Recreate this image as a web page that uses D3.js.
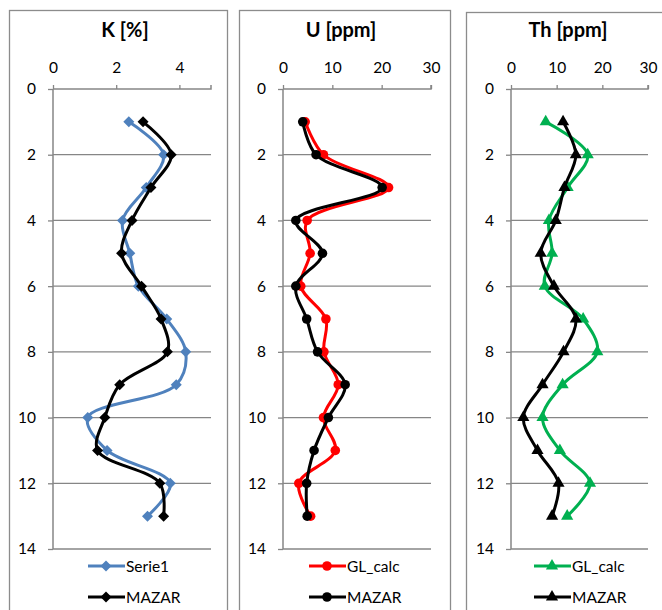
<!DOCTYPE html>
<html><head><meta charset="utf-8">
<script src="https://cdn.jsdelivr.net/npm/d3@7"></script>
<style>
html,body{margin:0;padding:0;background:#fff;}
svg{display:block;font-family:Lato,"Open Sans",sans-serif;}
</style></head>
<body>
<svg id="c" width="662" height="610"></svg>
<script>
// ---- data ----
const depths = [1,2,3,4,5,6,7,8,9,10,11,12,13];
const depthTicks = [0,2,4,6,8,10,12,14];

const kTicks = [0,2,4];
const kSerie1 = [2.4,3.5,2.95,2.2,2.43,2.7,3.6,4.2,3.9,1.1,1.71,3.71,2.99];
const kMazar  = [2.85,3.74,3.1,2.5,2.17,2.8,3.42,3.62,2.11,1.64,1.41,3.38,3.5];

const uTicks = [0,10,20,30];
const uGL    = [4.5,8.2,21.4,4.9,5.5,3.6,8.7,8.3,11.2,8.2,10.6,3.2,5.6];
const uMazar = [4.0,6.7,20.1,2.6,8.0,2.6,4.8,7.0,12.6,9.2,6.3,4.8,4.9];

const thTicks = [0,10,20,30];
const thGL    = [7.6,16.8,12.4,8.3,9.0,7.4,15.8,18.9,11.3,6.9,10.7,17.3,12.3];
const thMazar = [11.4,14.2,11.7,9.8,6.5,9.4,14.2,11.5,6.9,2.7,5.8,10.4,9.0];

const titles = ["K [%]","U [ppm]","Th [ppm]"];
const seriesNames = [["Serie1","MAZAR"],["GL_calc","MAZAR"],["GL_calc","MAZAR"]];

// ---- layout ----
const panels = [
  {box:[9,10,218,620], x0:53, x1:211, xmax:5, ticks:kTicks, title:titles[0], names:seriesNames[0],
   series:[kSerie1,kMazar], colors:["#4F81BD","#000"], marker:"diamond", tcx:125, lx:88},
  {box:[239,10,211,620], x0:283, x1:431, xmax:30, ticks:uTicks, title:titles[1], names:seriesNames[1],
   series:[uGL,uMazar], colors:["#FF0000","#000"], marker:"circle", tcx:341, lx:309},
  {box:[466,12,220,620], x0:511, x1:648, xmax:30, ticks:thTicks, title:titles[2], names:seriesNames[2],
   series:[thGL,thMazar], colors:["#00B050","#000"], marker:"triangle", tcx:568, lx:534}
];
const yTop = 89, yBot = 549;
const grid = "#868686";

const svg = d3.select("#c");
const y = d3.scaleLinear().domain([0,14]).range([yTop,yBot]);

function sym(type){
  if(type==="diamond") return "M0,-5.5L5.5,0L0,5.5L-5.5,0Z";
  if(type==="circle") return d3.symbol(d3.symbolCircle, 72)();
  return d3.symbol(d3.symbolTriangle, 64)();
}

panels.forEach(p=>{
  const g = svg.append("g");
  g.append("rect").attr("x",p.box[0]+0.5).attr("y",p.box[1]+0.5)
    .attr("width",p.box[2]).attr("height",p.box[3])
    .attr("fill","none").attr("stroke","#8c8c8c").attr("stroke-width",1.3);
  const x = d3.scaleLinear().domain([0,p.xmax]).range([p.x0,p.x1]);

  // gridlines
  g.selectAll(".gl").data(depthTicks.filter(d=>d>0)).join("line")
    .attr("x1",p.x0).attr("x2",p.x1).attr("y1",d=>y(d)).attr("y2",d=>y(d))
    .attr("stroke",grid).attr("stroke-width",1.3);

  // top axis
  const xa = g.append("g").attr("transform",`translate(0,${yTop})`)
    .call(d3.axisTop(x).tickValues(p.ticks).tickSize(4).tickPadding(12).tickFormat(d3.format("d")));
  xa.select(".domain").attr("stroke",grid).attr("stroke-width",1.5).attr("d",`M${p.x0},0H${p.x1}V-4`);
  xa.selectAll(".tick line").attr("stroke",grid).attr("stroke-width",1.3);
  xa.selectAll(".tick text").attr("font-size",15.5).attr("fill","#000").attr("font-family","Lato");

  // left axis
  const ya = g.append("g").attr("transform",`translate(${p.x0},0)`)
    .call(d3.axisLeft(y).tickValues(depthTicks).tickSize(5).tickPadding(12).tickFormat(d3.format("d")));
  ya.select(".domain").attr("stroke",grid).attr("stroke-width",1.5).attr("d",`M0,${yTop}V${yBot}`);
  ya.selectAll(".tick line").attr("stroke",grid).attr("stroke-width",1.3);
  ya.selectAll(".tick text").attr("font-size",15.5).attr("fill","#000").attr("font-family","Lato");

  // title
  g.append("text").attr("x",p.tcx).attr("y",37).attr("text-anchor","middle")
    .attr("font-size",20).attr("font-weight","bold").attr("font-family","Lato").text(p.title);

  // series
  const line = d3.line().x(d=>x(d[0])).y(d=>y(d[1])).curve(d3.curveCatmullRom.alpha(0.5));
  p.series.forEach((vals,i)=>{
    const pts = vals.map((v,j)=>[v,depths[j]]);
    g.append("path").attr("d",line(pts)).attr("fill","none")
      .attr("stroke",p.colors[i]).attr("stroke-width",3).attr("stroke-linejoin","round");
    g.selectAll(".m"+i).data(pts).join("path")
      .attr("transform",d=>`translate(${x(d[0])},${y(d[1])})`)
      .attr("d",sym(p.marker)).attr("fill",p.colors[i]);
    // legend
    const ly = 566 + i*31;
    g.append("line").attr("x1",p.lx).attr("x2",p.lx+37).attr("y1",ly).attr("y2",ly)
      .attr("stroke",p.colors[i]).attr("stroke-width",3);
    g.append("path").attr("transform",`translate(${p.lx+18},${ly})`).attr("d",sym(p.marker)).attr("fill",p.colors[i]);
    g.append("text").attr("x",p.lx+38).attr("y",ly+5.5).attr("font-size",15.5)
      .attr("font-family","Lato").text(p.names[i]);
  });
});
</script>
</body></html>
